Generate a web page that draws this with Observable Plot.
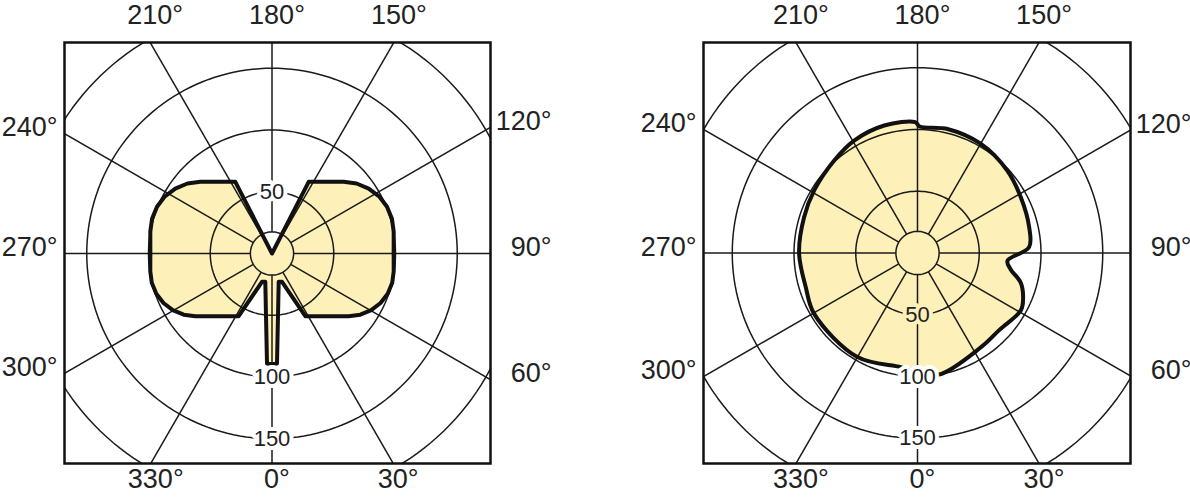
<!DOCTYPE html>
<html><head><meta charset="utf-8">
<script src="https://cdn.jsdelivr.net/npm/d3@7"></script>
<script src="https://cdn.jsdelivr.net/npm/@observablehq/plot@0.6"></script>
<style>
html,body{margin:0;padding:0;background:#fff;}
#wrap{position:relative;width:1190px;height:500px;overflow:hidden;}
#wrap svg{position:absolute;top:0;overflow:visible;}
</style></head><body><div id="wrap"></div>
<script>
// ---- data ----
const angleTicks = [0, 30, 60, 90, 120, 150, 180, 210, 240, 270, 300, 330];
const angleLabels = ["0°", "30°", "60°", "90°", "120°", "150°", "180°", "210°", "240°", "270°", "300°", "330°"];
const ringValues = [50, 100, 150, 200];
const ringLabelValues = [50, 100, 150];
const innerRing = 17.5;

// left diagram: angle (deg, 0 = down, 90 = right) and intensity
const leftAngles = [0, 2.6, 13.3, 19.5, 28, 50.7, 55.3, 60.3, 65.5, 70.8, 76.3, 81.7, 90, 100.1, 106.1, 112.1,
                    118.1, 123.9, 129.6, 135, 152.9, 180,
                    207.1, 225, 230.4, 236.1, 241.9, 247.9, 253.9, 259.9, 270, 278.3, 283.7, 289.2, 294.5,
                    299.7, 304.7, 309.3, 332, 340.5, 346.7, 357.4];
const leftValues = [89.6, 89.1, 23.6, 24.3, 57.5, 80.2, 87, 92.5, 96.6, 99.2, 100.2, 99.6, 98.5, 100.1, 101.1, 100.5,
                    98.3, 94.3, 88.9, 82.1, 65.2, 0,
                    65.2, 82.1, 88.9, 94.3, 98.3, 100.5, 101.1, 100.1, 98.5, 99.6, 100.2, 99.2, 96.6,
                    92.5, 87, 80.2, 57.5, 24.3, 23.6, 89.1];

// right diagram
const rightAngles = [0, 10, 34, 47, 61, 67, 74, 80, 85, 93, 103, 118.5, 132.6, 150, 166, 179,
                     181, 194.6, 209.4, 222, 238.8, 252.5, 270, 287, 300.5, 330, 351.7];
const rightValues = [96, 100, 92, 91, 95.7, 92.9, 86.9, 76.6, 73.1, 90.5, 92.8, 95.1, 98.7, 102.2, 103.3, 102.4,
                     106, 106.7, 104.5, 100.8, 97.8, 96.3, 95.9, 94.6, 97.1, 97.3, 93.4];

// ---- layout ----
const K = 1.235;      // px per unit
const W = 595, H = 500;
const FILL = "#fdf0b9", INK = "#1a1a1a";
const FONT = "Liberation Sans, Arial, sans-serif";

const rad = a => a * Math.PI / 180;
const toXY = (a, v) => ({x: v * Math.sin(rad(a)), y: -v * Math.cos(rad(a))});

function panel(cfg) {
  const {offset, fL, fR, fT, fB, cx, cy, angles, values, curve, labelPos} = cfg;
  const xd = [(fL - cx) / K, (fR - cx) / K];
  const yd = [(cy - fB) / K, (cy - fT) / K];
  const pts = angles.map((a, i) => toXY(a, values[i]));
  const ringPts = ringValues.flatMap(v => d3.range(0, 361, 2).map(a => ({ring: v, ...toXY(a, v)})));
  const innerPts = d3.range(0, 361, 4).map(a => toXY(a, innerRing));

  function hit(a) {
    const s = Math.sin(rad(a)), c = -Math.cos(rad(a));
    let t = Infinity;
    if (s > 1e-9) t = Math.min(t, xd[1] / s);
    if (s < -1e-9) t = Math.min(t, xd[0] / s);
    if (c > 1e-9) t = Math.min(t, yd[1] / c);
    if (c < -1e-9) t = Math.min(t, yd[0] / c);
    return {x: t * s, y: t * c};
  }
  const lab = angleTicks.map((a, i) => ({a, text: angleLabels[i], ...hit(a)}));
  const top = lab.filter(d => d.a === 150 || d.a === 180 || d.a === 210);
  const bottom = lab.filter(d => d.a === 330 || d.a === 0 || d.a === 30);
  const left = lab.filter(d => d.a === 240 || d.a === 270 || d.a === 300);
  const right = lab.filter(d => d.a === 60 || d.a === 90 || d.a === 120);

  const rl = ringLabelValues.map(v => ({v, text: String(v), y: labelPos[v] === "top" ? v : -v, halo: cfg.halo[v] || "white"}));
  const labelMarks = ["white", FILL].map(h => Plot.text(rl.filter(d => d.halo === h), {
    x: 0, y: "y", text: "text", fontSize: 22, fill: "#222", stroke: h, strokeWidth: 8,
    strokeLinejoin: "round", paintOrder: "stroke"
  }));

  const svg = Plot.plot({
    width: W, height: H,
    marginLeft: fL - offset, marginRight: offset + W - fR, marginTop: fT, marginBottom: H - fB,
    x: {domain: xd, axis: null},
    y: {domain: yd, axis: null},
    style: {fontFamily: FONT, background: "transparent", overflow: "visible"},
    marks: [
      Plot.line(pts, {x: "x", y: "y", fill: FILL, stroke: "none", curve}),
      Plot.line(ringPts, {x: "x", y: "y", z: "ring", stroke: INK, strokeWidth: 1.5, clip: true}),
      Plot.link(angleTicks, {
        x1: a => toXY(a, innerRing).x, y1: a => toXY(a, innerRing).y,
        x2: a => toXY(a, 400).x, y2: a => toXY(a, 400).y,
        stroke: INK, strokeWidth: 1.5, clip: true
      }),
      Plot.line(innerPts, {x: "x", y: "y", stroke: INK, strokeWidth: 1.5, curve: "linear-closed"}),
      Plot.line(pts, {x: "x", y: "y", stroke: "#111", strokeWidth: 4, strokeLinejoin: "round", curve}),
      ...labelMarks,
      Plot.frame({stroke: "#111", strokeWidth: 2.5}),
      Plot.text(top, {x: "x", y: yd[1], text: "text", dx: 5, dy: -27, fontSize: 27, fill: "#222"}),
      Plot.text(bottom, {x: "x", y: yd[0], text: "text", dx: 5, dy: 16, fontSize: 27, fill: "#222"}),
      Plot.text(left, {x: xd[0], y: "y", text: "text", dx: -7, dy: -6, textAnchor: "end", fontSize: 27, fill: "#222"}),
      Plot.text(right, {x: xd[1], y: "y", text: "text", dx: 61, dy: -6, textAnchor: "end", fontSize: 27, fill: "#222"})
    ]
  });
  svg.style.left = offset + "px";
  return svg;
}

const wrap = document.getElementById("wrap");
wrap.appendChild(panel({
  offset: 0, fL: 64, fR: 490, fT: 42, fB: 463, cx: 271.5, cy: 253,
  angles: leftAngles, values: leftValues, curve: "linear-closed",
  labelPos: {50: "top", 100: "bottom", 150: "bottom"}, halo: {}
}));
wrap.appendChild(panel({
  offset: 595, fL: 703, fR: 1130, fT: 42, fB: 463, cx: 917, cy: 252.5,
  angles: rightAngles, values: rightValues, curve: "catmull-rom-closed",
  labelPos: {50: "bottom", 100: "bottom", 150: "bottom"}, halo: {50: FILL}
}));
</script></body></html>
